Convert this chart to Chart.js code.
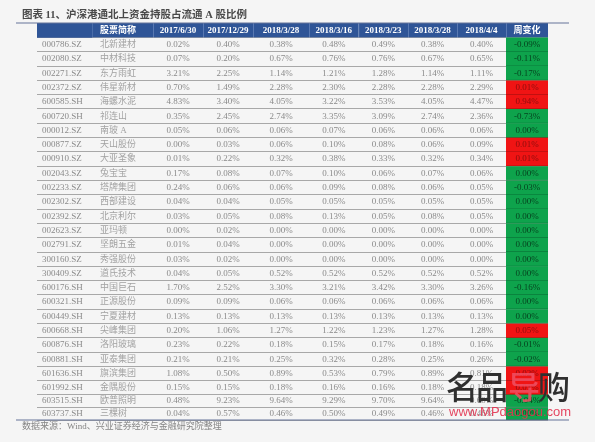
<!DOCTYPE html>
<html><head><meta charset="utf-8">
<script src="https://cdn.jsdelivr.net/npm/chart.js@4/dist/chart.umd.min.js"></script>
<style>html,body{margin:0;padding:0;background:#f5f5f5}canvas{display:block;filter:blur(0.4px)}</style>
</head><body><canvas id="c" width="595" height="442" style="width:595px;height:442px"></canvas>
<script>
const titleText = '图表 11、沪深港通北上资金持股占流通 A 股比例';
const sourceText = '数据来源：Wind、兴业证券经济与金融研究院整理';
const headers = ['', '股票简称', '2017/6/30', '2017/12/29', '2018/3/28', '2018/3/16', '2018/3/23', '2018/3/28', '2018/4/4', '周变化'];
const codes = ['000786.SZ','002080.SZ','002271.SZ','002372.SZ','600585.SH','600720.SH','000012.SZ','000877.SZ','000910.SZ','002043.SZ','002233.SZ','002302.SZ','002392.SZ','002623.SZ','002791.SZ','300160.SZ','300409.SZ','600176.SH','600321.SH','600449.SH','600668.SH','600876.SH','600881.SH','601636.SH','601992.SH','603515.SH','603737.SH'];
const names = ['北新建材','中材科技','东方雨虹','伟星新材','海螺水泥','祁连山','南玻 A','天山股份','大亚圣象','兔宝宝','塔牌集团','西部建设','北京利尔','亚玛顿','坚朗五金','秀强股份','道氏技术','中国巨石','正源股份','宁夏建材','尖峰集团','洛阳玻璃','亚泰集团','旗滨集团','金隅股份','欧普照明','三棵树'];
const s20170630 = [0.02,0.07,3.21,0.70,4.83,0.35,0.05,0.00,0.01,0.17,0.24,0.04,0.03,0.00,0.01,0.03,0.04,1.70,0.09,0.13,0.20,0.23,0.21,1.08,0.15,0.48,0.04];
const s20171229 = [0.40,0.20,2.25,1.49,3.40,2.45,0.06,0.03,0.22,0.08,0.06,0.04,0.05,0.02,0.04,0.02,0.05,2.52,0.09,0.13,1.06,0.22,0.21,0.50,0.15,9.23,0.57];
const s20180328a = [0.38,0.67,1.14,2.28,4.05,2.74,0.06,0.06,0.32,0.07,0.06,0.05,0.08,0.00,0.00,0.00,0.52,3.30,0.06,0.13,1.27,0.18,0.25,0.89,0.18,9.64,0.46];
const s20180316 = [0.48,0.76,1.21,2.30,3.22,3.35,0.07,0.10,0.38,0.10,0.09,0.05,0.13,0.00,0.00,0.00,0.52,3.21,0.06,0.13,1.22,0.15,0.32,0.53,0.16,9.29,0.50];
const s20180323 = [0.49,0.76,1.28,2.28,3.53,3.09,0.06,0.08,0.33,0.06,0.08,0.05,0.05,0.00,0.00,0.00,0.52,3.42,0.06,0.13,1.23,0.17,0.28,0.79,0.16,9.70,0.49];
const s20180328b = [0.38,0.67,1.14,2.28,4.05,2.74,0.06,0.06,0.32,0.07,0.06,0.05,0.08,0.00,0.00,0.00,0.52,3.30,0.06,0.13,1.27,0.18,0.25,0.89,0.18,9.64,0.46];
const s20180404 = [0.40,0.65,1.11,2.29,4.47,2.36,0.06,0.09,0.34,0.06,0.05,0.05,0.05,0.00,0.00,0.00,0.52,3.26,0.06,0.13,1.28,0.16,0.26,0.81,0.18,9.60,0.46];
const weekChange = [-0.09,-0.11,-0.17,0.01,0.94,-0.73,0.00,0.01,0.01,0.00,-0.03,0.00,0.00,0.00,0.00,0.00,0.00,-0.16,0.00,0.00,0.05,-0.01,-0.02,0.02,0.01,-0.04,0.00];
const rising = [false,false,false,true,true,false,false,true,true,false,false,false,false,false,false,false,false,false,false,false,true,false,false,true,true,false,false];

// table layout (cell widths / row heights, in pixels of the table)
const colWidths = [55,61,50,50,56,49.5,49.5,49,49,42];
const rowHeights = [14.5].concat(codes.map((c,i)=> i>=25 ? 12.5 : 14.3));

const pct = v => v.toFixed(2) + '%';
const columns = [codes, names].concat([s20170630,s20171229,s20180328a,s20180316,s20180323,s20180328b,s20180404,weekChange].map(a=>a.map(pct)));
const rowLabels = ['header'].concat(codes);

class RowScale extends Chart.CategoryScale {
  static id = 'rows';
  static defaults = Chart.CategoryScale.defaults;
  centre(i){
    const w = this.options.weights, total = w.reduce((a,b)=>a+b,0);
    let acc = 0; for (let k=0;k<i && k<w.length;k++) acc += w[k];
    return this.top + (acc + (w[i]||0)/2) / total * (this.bottom-this.top);
  }
  getPixelForValue(v){ if (typeof v !== 'number') v = this.parse(v); return this.centre(v); }
  getPixelForTick(i){ return this.centre(this.getTicks()[i].value); }
}
Chart.register(RowScale);

const HEAD='#2f5597', GREEN='#0ea34c', RED='#f01414';
const datasets = colWidths.map((w,ci)=>({
  label: headers[ci] || 'code',
  data: rowLabels.map(()=>w),
  stack:'t',
  barPercentage:1, categoryPercentage:1, barThickness:'flex',
  borderSkipped:false,
  backgroundColor: rowLabels.map((_,ri)=> ri===0 ? HEAD : (ci===9 ? (rising[ri-1]?RED:GREEN) : 'rgba(0,0,0,0)')),
  borderColor: rowLabels.map((_,ri)=> ri===0 ? '#6f8cc0' : (ci===9 ? (rising[ri-1]?'#b81010':'#0a7a3a') : 'rgba(0,0,0,0)')),
  borderWidth: rowLabels.map((_,ri)=> ri===0 ? {left:ci>0?1:0,right:0,top:0,bottom:0} : (ci===9 ? {left:0,right:0,top:0,bottom:1} : 0)),
}));

const SERIF='"Liberation Serif","Noto Sans CJK SC"';
const tablePlugin = {
  id:'tableText',
  afterDatasetsDraw(chart){
    const c = chart.ctx; c.save(); c.textBaseline='middle';
    columns.forEach((col,ci)=>{
      const meta = chart.getDatasetMeta(ci);
      const leftAlign = ci<2;
      meta.data.forEach((el,ri)=>{
        const x0 = el.base, x1 = el.x, y = el.y;
        let text, font, color;
        if (ri===0){ text=headers[ci]; font='bold 9px '+SERIF; color='#ffffff'; }
        else { text=col[ri-1]; font='9px '+SERIF; color= ci===1 ? '#a2a2a2' : '#8a8a8a';
          if (ci===9){ color = rising[ri-1] ? '#8a0d0d' : '#06431f'; }
        }
        if(!text) return;
        c.font=font; c.fillStyle=color;
        if (leftAlign){ c.textAlign='left'; c.fillText(text, ci===0? x0+5 : x0+8, y); }
        else { c.textAlign='center'; c.fillText(text, (x0+x1)/2, y); }
      });
    });
    c.restore();
  },
  afterDraw(chart){
    const c = chart.ctx; c.save();
    const a = chart.chartArea;
    c.strokeStyle='#66749a'; c.lineWidth=1.2;
    [a.top,a.bottom].forEach(y=>{c.beginPath();c.moveTo(16,y);c.lineTo(569,y);c.stroke();});
    c.textBaseline='middle'; c.textAlign='left';
    c.font='bold 10.5px '+SERIF; c.fillStyle='#4a4a4a'; c.fillText(titleText,22,a.top-8);
    c.font='9px '+SERIF; c.fillStyle='#858585'; c.fillText(sourceText,22,a.bottom+7);
    // watermark
    c.font='500 32px "Noto Sans CJK SC"'; c.textBaseline='alphabetic';
    [['名',446,'#2f2f2f'],['品',476,'#2f2f2f'],['导',508,'rgba(238,80,100,0.85)'],['购',538,'#2f2f2f']].forEach(([t,x,col])=>{
      c.fillStyle=col; c.fillText(t,x,399);
    });
    c.font='13px "Liberation Sans"'; c.fillStyle='rgba(226,50,80,0.9)';
    c.fillText('www.MPdaogou.com',449,416);
    c.restore();
  }
};

new Chart(document.getElementById('c'),{
  type:'bar',
  data:{labels:rowLabels,datasets},
  options:{
    indexAxis:'y', responsive:false, animation:false,
    layout:{padding:{left:37,right:47,top:23,bottom:22}},
    plugins:{legend:{display:false},tooltip:{enabled:false},title:{display:false}},
    scales:{
      x:{type:'linear',stacked:true,display:false,min:0,max:colWidths.reduce((a,b)=>a+b,0)},
      y:{type:'rows',weights:rowHeights,stacked:true,offset:true,
         border:{display:false},
         grid:{offset:true,color:'#a8a8a8',lineWidth:1,drawTicks:false},
         ticks:{display:false}}
    }
  },
  plugins:[tablePlugin]
});
</script></body></html>
